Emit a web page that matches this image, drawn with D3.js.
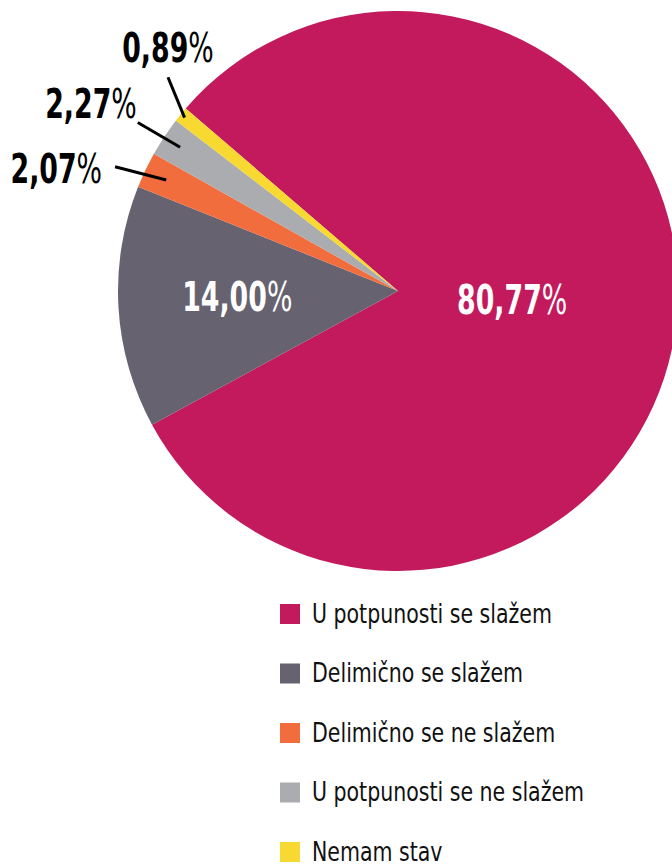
<!DOCTYPE html>
<html>
<head>
<meta charset="utf-8">
<script src="https://cdn.jsdelivr.net/npm/d3@7"></script>
<style>
  body { margin: 0; background: #fff; }
  svg { display: block; font-family: "DejaVu Sans", sans-serif; }
</style>
</head>
<body>
<script>
// data
var categories = ["U potpunosti se slažem", "Delimično se slažem", "Delimično se ne slažem", "U potpunosti se ne slažem", "Nemam stav"];
var values = [80.77, 14.00, 2.07, 2.27, 0.89];
var colors = ["#c21a5c", "#66626f", "#f26d3d", "#abacaf", "#f8d932"];

var w = 672, h = 864;
var cx = 398, cy = 291, r = 280;
var startAngle = -49.3 * Math.PI / 180;

var svg = d3.select("body").append("svg")
    .attr("width", w)
    .attr("height", h);

var pie = d3.pie()
    .sort(null)
    .startAngle(startAngle)
    .endAngle(startAngle + 2 * Math.PI)
    .value(function(d) { return d; });

var arcs = pie(values);

var arc = d3.arc().innerRadius(0).outerRadius(r);

var g = svg.append("g")
    .attr("transform", "translate(" + cx + "," + cy + ")");

g.selectAll("path.slice")
  .data(arcs)
  .enter().append("path")
    .attr("class", "slice")
    .attr("d", arc)
    .attr("fill", function(d, i) { return colors[i]; });

var fmt = function(v) { return v.toFixed(2).replace(".", ","); };

// no narrow font installed, so squeeze text horizontally
var sx = 0.67;
function addLabel(sel, v) {
  sel.append("tspan").attr("font-weight", "bold").text(fmt(v));
  sel.append("tspan").attr("font-weight", "normal").text("%");
}

// labels inside the two big slices
arcs.forEach(function(d, i) {
  if (i > 1) return;
  var lr = i === 0 ? r * 0.41 : r * 0.575;
  var a = (d.startAngle + d.endAngle) / 2;
  var t = g.append("text")
      .attr("transform", "translate(" + (lr * Math.sin(a)) + "," + (-lr * Math.cos(a) - 3) + ") scale(" + sx + ",1)")
      .attr("text-anchor", "middle")
      .attr("dominant-baseline", "central")
      .attr("fill", "#fff")
      .attr("font-size", 40);
  addLabel(t, values[i]);
});

// outside labels with leader lines for small slices
// [angle shift (deg), inner r, outer r, dx, dy, anchor]
var leaders = {
  2: [-1.9, 257, 309, -13, 16, "end"],
  3: [-0.5, 261, 310, -1, -5, "end"],
  4: [3.8, 275, 314, 0, -15, "middle"]
};
arcs.forEach(function(d, i) {
  if (i < 2) return;
  var o = leaders[i];
  var a = (d.startAngle + d.endAngle) / 2;
  var a2 = a + o[0] * Math.PI / 180;
  var x1 = o[1] * Math.sin(a), y1 = -o[1] * Math.cos(a);
  var x2 = o[2] * Math.sin(a2), y2 = -o[2] * Math.cos(a2);
  g.append("line")
    .attr("x1", x1).attr("y1", y1)
    .attr("x2", x2).attr("y2", y2)
    .attr("stroke", "#000")
    .attr("stroke-width", 3);
  var t = g.append("text")
      .attr("transform", "translate(" + (x2 + o[3]) + "," + (y2 + o[4]) + ") scale(" + sx + ",1)")
      .attr("text-anchor", o[5])
      .attr("fill", "#000")
      .attr("font-size", 40);
  addLabel(t, values[i]);
});

// legend
var legend = svg.append("g").attr("transform", "translate(280,604)");
var item = legend.selectAll("g.item")
  .data(categories)
  .enter().append("g")
    .attr("class", "item")
    .attr("transform", function(d, i) { return "translate(0," + (i * 59.5) + ")"; });

item.append("rect")
    .attr("width", 20)
    .attr("height", 20)
    .attr("fill", function(d, i) { return colors[i]; });

item.append("text")
    .attr("transform", "translate(32,10) scale(0.79,1)")
    .attr("dominant-baseline", "central")
    .attr("font-size", 26)
    .attr("fill", "#111")
    .text(function(d) { return d; });
</script>
</body>
</html>
